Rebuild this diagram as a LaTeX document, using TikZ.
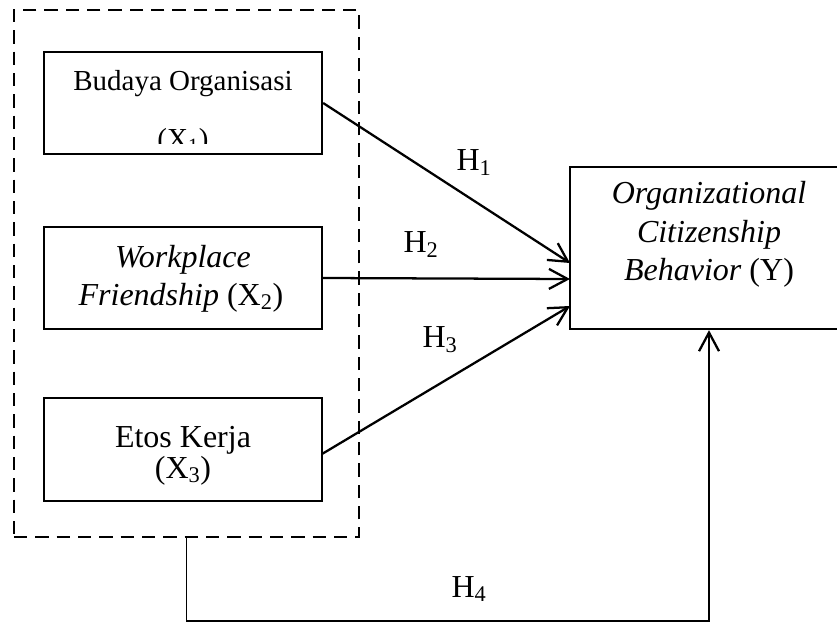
\documentclass[tikz,border=0pt]{standalone}
\usepackage{fontspec}
\setmainfont{Liberation Serif}
\usetikzlibrary{arrows.meta}

\tikzset{
  varbox/.style={draw, line width=1.7pt, inner sep=0pt,
    minimum width=208.5pt, minimum height=76.5pt},
  txt/.style={inner sep=0pt, anchor=base, font=\fontsize{24}{28}\selectfont},
  hyp/.style={line width=1.7pt, -{Straight Barb[length=14pt, width=15pt, line width=1.7pt]}},
  hlabel/.style={inner sep=0pt, font=\fontsize{24}{28}\selectfont}
}

\begin{document}
\begin{tikzpicture}[x=0.75pt, y=-0.75pt]

\useasboundingbox (0,0) rectangle (837,621);

% dashed group round X1, X2, X3
\node[draw, dash pattern=on 10pt off 6pt, line width=1.7pt, inner sep=0pt,
  minimum width=258.75pt, minimum height=395.25pt] (group) at (186.5,273.5) {};

\node[varbox] (x1) at (183,103) {}; % X1
\node[varbox] (x2) at (183,278) {}; % X2
\node[varbox, minimum height=77.25pt] (x3) at (183,449.5) {}; % X3
\node[varbox, minimum width=208.5pt, minimum height=121.5pt] (y) at (709,248) {}; % Y

% texts
\node[txt, font=\fontsize{21.75}{26}\selectfont] (x1a) at (183,90) {Budaya Organisasi};
\begin{scope}
\clip (44,52) rectangle (322,143);
\node[txt, font=\fontsize{21.75}{26}\selectfont] (x1b) at (183,148) {(X\textsubscript{1})};
\end{scope}

\node[txt] (x2a) at (183,267) {\itshape Workplace};
\node[txt] (x2b) at (181,305) {\textit{Friendship} (X\textsubscript{2})};

\node[txt] (x3a) at (183,447) {Etos Kerja};
\node[txt] (x3b) at (183,478) {(X\textsubscript{3})};

\node[txt] (ya) at (709,203) {\itshape Organizational};
\node[txt] (yb) at (709,242) {\itshape Citizenship};
\node[txt] (yc) at (709,280) {\textit{Behavior} (Y)};

% arrow ends on Y
\coordinate (in1) at (570,263);
\coordinate (in2) at (570,279);
\coordinate (in3) at (570,306);
\coordinate (x3out) at (322,454);

\draw[hyp] (x1.east) -- (in1);
\draw[hyp] (x2.east) -- (in2);
\draw[hyp] (x3out) -- (in3);
\draw[hyp, line width=1.3pt] (group.south) -- ++(0,83) -| (y.south);

\node[hlabel] (h1) at (474,163) {H\textsubscript{1}};
\node[hlabel] (h2) at (421,245) {H\textsubscript{2}};
\node[hlabel] (h3) at (440,340) {H\textsubscript{3}};
\node[hlabel] (h4) at (469,589) {H\textsubscript{4}};

\end{tikzpicture}
\end{document}
